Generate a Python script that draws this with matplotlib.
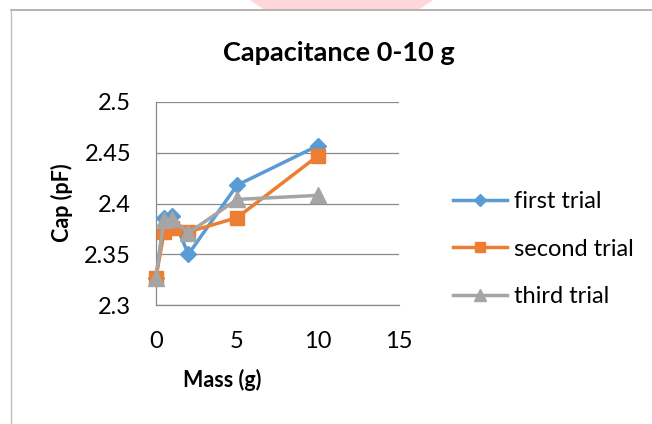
import matplotlib
matplotlib.use("Agg")
import matplotlib.pyplot as plt
from matplotlib.lines import Line2D
from matplotlib.patches import Polygon

mass = [0, 0.5, 1, 2, 5, 10]
first_trial = [2.327, 2.386, 2.388, 2.350, 2.418, 2.457]
second_trial = [2.327, 2.372, 2.376, 2.372, 2.386, 2.447]
third_trial = [2.327, 2.384, 2.385, 2.371, 2.404, 2.408]
series_names = ["first trial", "second trial", "third trial"]
x_ticks = [0, 5, 10, 15]
y_ticks = [2.3, 2.35, 2.4, 2.45, 2.5]
y_tick_labels = ["2.3", "2.35", "2.4", "2.45", "2.5"]

plt.rcParams['font.family'] = ['Lato', 'DejaVu Sans']

W, H = 652, 424
fig = plt.figure(figsize=(W / 100, H / 100), dpi=100)
fig.patch.set_facecolor('white')

# watermark strip and border
fig.patches.append(Polygon([[250 / W, 1], [433 / W, 1], [420 / W, 1 - 9 / H], [263 / W, 1 - 9 / H]],
                           closed=True, transform=fig.transFigure, facecolor='#FFD6D9',
                           edgecolor='none', zorder=0))
fig.lines.append(Line2D([11 / W, 1], [1 - 10 / H, 1 - 10 / H], transform=fig.transFigure,
                        color='#A6A6A6', lw=1.2))
fig.lines.append(Line2D([11 / W, 11 / W], [0, 1 - 10 / H], transform=fig.transFigure,
                        color='#BFBFBF', lw=1.0))

ax = fig.add_axes([156 / W, 1 - 305 / H, (399 - 156) / W, (305 - 102) / H])
ax.set_xlim(0, 15)
ax.set_ylim(2.3, 2.5)
ax.set_xticks(x_ticks)
ax.set_yticks(y_ticks)
ax.set_yticklabels(y_tick_labels)
ax.tick_params(length=0, labelsize=17, colors='#000000')
ax.tick_params(axis='y', pad=18)
ax.tick_params(axis='x', pad=19)
ax.grid(axis='y', color='#898989', lw=0.9)
ax.set_axisbelow(True)
for s in ['top', 'right']:
    ax.spines[s].set_visible(False)
for s in ['left', 'bottom']:
    ax.spines[s].set_color('#898989')
    ax.spines[s].set_linewidth(0.9)

ax.plot(mass, first_trial, color='#5B9BD5', lw=2.5, marker='D', ms=8, label=series_names[0],
        clip_on=False, zorder=3)
ax.plot(mass, second_trial, color='#ED7D31', lw=2.5, marker='s', ms=10, label=series_names[1],
        clip_on=False, zorder=4)
ax.plot(mass, third_trial, color='#A5A5A5', lw=2.5, marker='^', ms=11, label=series_names[2],
        clip_on=False, zorder=5)

fig.text(339 / W, 1 - 53 / H, "Capacitance 0-10 g", ha='center', va='center',
         fontsize=19.5, fontweight='bold')
fig.text(222 / W, 1 - 380 / H, "Mass (g)", ha='center', va='center',
         fontsize=15.5, fontweight='bold')
fig.text(62 / W, 1 - 203 / H, "Cap (pF)", ha='center', va='center', rotation=90,
         fontsize=15.5, fontweight='bold')

leg = fig.legend(loc='center left', bbox_to_anchor=(453 / W, 1 - 249 / H), frameon=False,
                 fontsize=17, handlelength=2.3, labelspacing=1.13, handletextpad=0.3,
                 markerscale=0.75, borderaxespad=0, borderpad=0)

fig.savefig("out.png", dpi=100)
